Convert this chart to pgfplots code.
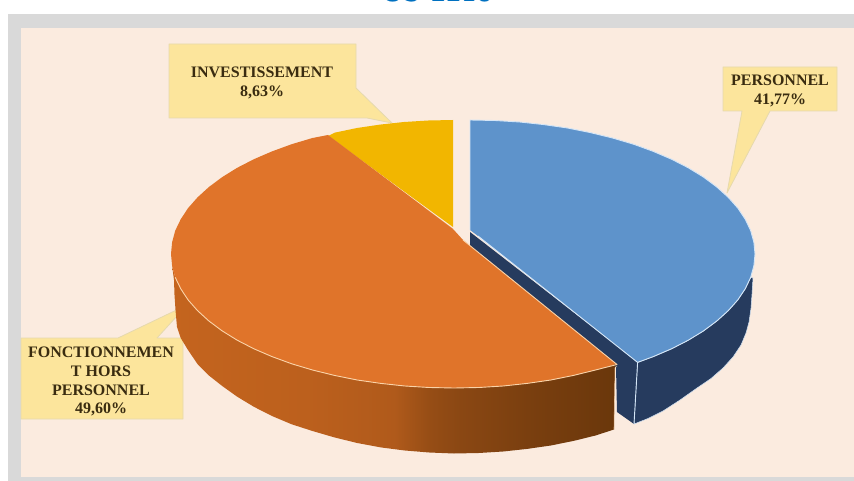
\documentclass[border=0pt]{standalone}
\usepackage{pgfplots}
\pgfplotsset{compat=1.18}
\usepackage{fontspec}
\setmainfont{Liberation Serif}
\definecolor{frame}{HTML}{D9D9D9}
\definecolor{paper}{HTML}{FBEBDF}
\definecolor{callout}{HTML}{FCE59C}
\definecolor{calloutedge}{HTML}{E6D9AE}
\definecolor{blueTop}{HTML}{5E93CB}
\definecolor{blueEdge}{HTML}{D5E6F7}
\definecolor{blueSide}{HTML}{263B5E}
\definecolor{orangeTop}{HTML}{E0742A}
\definecolor{orangeEdge}{HTML}{FAD3A8}
\definecolor{yellowTop}{HTML}{F2B600}
\definecolor{titleBlue}{HTML}{0070C0}
\definecolor{labelInk}{HTML}{3A2C10}
\definecolor{rimA}{HTML}{C4641E}
\definecolor{rimB}{HTML}{BC601D}
\definecolor{rimC}{HTML}{B05A1B}
\definecolor{rimD}{HTML}{964D15}
\definecolor{rimE}{HTML}{8A4713}
\definecolor{rimF}{HTML}{7A3F0F}
\definecolor{rimG}{HTML}{6A370B}
% rim of the orange slice, lit on the left and falling into shade on the right
\pgfdeclarehorizontalshading{orangeRim}{100bp}{
  color(0bp)=(rimA);
  color(25bp)=(rimA);
  color(40bp)=(rimB);
  color(50bp)=(rimC);
  color(54bp)=(rimD);
  color(57.5bp)=(rimE);
  color(65bp)=(rimF);
  color(75bp)=(rimG);
  color(100bp)=(rimG)}
\begin{document}
\begin{tikzpicture}
\begin{axis}[
  scale only axis, width=854pt, height=481pt,
  xmin=0, xmax=854, ymin=0, ymax=481, y dir=reverse,
  axis lines=none, no markers,
  every axis plot/.append style={line join=round},
]
% page ground
\addplot[fill=frame, draw=none] coordinates {(8,14) (854,14) (854,481) (8,481)} --cycle;
\addplot[fill=paper, draw=none] coordinates {(21,28) (854,28) (854,477) (21,477)} --cycle;

% heading, cut by the top of the page
\node[text=titleBlue, font=\bfseries\fontsize{28}{28}\selectfont\sffamily, anchor=base]
  at (axis cs:437,1.5) {US 2218};

% callout boxes with their tails
\addplot[fill=callout, draw=calloutedge, line width=0.8pt] coordinates
  {(169,44) (356,44) (356,88) (392,123) (367,118) (169,118)} --cycle;
\addplot[fill=callout, draw=calloutedge, line width=0.8pt] coordinates
  {(723,67) (837,67) (837,111) (770,111) (727,193) (742,111) (723,111)} --cycle;
\addplot[fill=callout, draw=calloutedge, line width=0.8pt] coordinates
  {(21,338) (118,338) (187,305) (157,338) (183,338) (183,419) (21,419)} --cycle;

% rim of the blue slice
\addplot[fill=blueSide, draw=blueEdge, line width=0.5pt] coordinates
  {(637.6,362.4) (653.3,356.6) (671.5,348.8) (688.3,340.2) (703.5,330.9) (716.8,321)
   (728.3,310.6) (737.9,299.8) (745.3,288.7) (750.7,277.3)
   (753,278) (752,294) (751,308) (749,322) (746,333) (741,345) (733,357) (723,368)
   (711,378.5) (697,388) (680,400) (663,411) (648,418.5) (634,424)} --cycle;
% cut face of the blue slice
\addplot[fill=blueSide, draw=none] coordinates
  {(470,232) (637.6,362) (634,424) (617,412) (616,367) (470,248)} --cycle;
\addplot[draw=blueEdge, line width=0.9pt] coordinates {(637.6,362) (634,424)};

% rim of the orange slice
\addplot[shading=orangeRim, draw=none] coordinates
  {(172.1,265.7) (175.2,277.3) (180.7,288.7) (188,299.8) (197.5,310.6) (208.9,321)
   (222.2,330.9) (237.2,340.2) (253.9,348.8) (272,356.6) (291.7,363.8) (312.5,370)
   (334.4,375.4) (357.2,380) (380.8,383.4) (404.8,386) (429.3,387.5) (454,388)
   (478.7,387.5) (503.2,386) (527.2,383.4) (550.8,380) (573.6,375.4) (595.5,370) (616.3,364)
   (615,367) (614,429.5) (595.5,435.5) (573.6,440.9) (550.8,445.5) (527.2,448.9)
   (503.2,451.5) (478.7,453) (454,453.5) (429.3,452.5) (404.8,450.5) (380.8,447.4)
   (357.2,443) (334.4,437.4) (312.5,431) (291.7,424.3) (272,416) (253.9,406.8) (237.2,396.7)
   (222.2,386) (208.9,375.5) (197.5,364) (188,350) (180.7,338) (177,327) (175.5,310)
   (174.5,295) (174,280)} --cycle;
\addplot[draw=orangeEdge, line width=0.6pt, opacity=0.7] coordinates {(617,366) (615,368) (614,429.5)};

% top faces
\addplot[fill=yellowTop, draw=none] coordinates
  {(453,120) (453,227) (328,136) (335,132.6) (357,128) (380,124.6) (404,122) (428.3,120.5)} --cycle;
\addplot[draw=orangeEdge, line width=0.8pt] coordinates {(328,136) (453,229)};

\addplot[fill=orangeTop, draw=none] coordinates
  {(328,135) (453,229) (463,240) (617,364.5)
   (616.3,364) (595.5,370) (573.6,375.4) (550.8,380) (527.2,383.4) (503.2,386) (478.7,387.5)
   (454,388) (429.3,387.5) (404.8,386) (380.8,383.4) (357.2,380) (334.4,375.4) (312.5,370)
   (291.7,363.8) (272,356.6) (253.9,348.8) (237.2,340.2) (222.2,330.9) (208.9,321)
   (197.5,310.6) (188,299.8) (180.7,288.7) (175.2,277.3) (172.1,265.7) (171,254)
   (172.1,242.3) (175.2,230.7) (180.7,219.3) (188,208.2) (197.5,197.4) (208.9,187)
   (222.2,177.1) (237.2,167.8) (253.9,159.2) (272,151.4) (291.7,144.2) (312.5,138)} --cycle;
\addplot[draw=orangeEdge, line width=0.9pt] coordinates
  {(463,240) (617,364.5) (595.5,370) (573.6,375.4) (550.8,380) (527.2,383.4) (503.2,386)
   (478.7,387.5) (454,388) (429.3,387.5) (404.8,386) (380.8,383.4) (357.2,380) (334.4,375.4)
   (312.5,370) (291.7,363.8) (272,356.6) (253.9,348.8) (237.2,340.2) (222.2,330.9) (208.9,321)
   (197.5,310.6) (188,299.8) (180.7,288.7) (175.2,277.3)};

\addplot[fill=blueTop, draw=none] coordinates
  {(470,120) (494.9,120.5) (519.6,122) (543.8,124.6) (567.5,128) (590.4,132.6) (612.5,138)
   (633.5,144.2) (653.3,151.4) (671.5,159.2) (688.3,167.8) (703.5,177.1) (716.8,187)
   (728.3,197.4) (737.9,208.2) (745.3,219.3) (750.7,230.7) (753.9,242.3) (755,254)
   (753.9,265.7) (750.7,277.3) (745.3,288.7) (737.9,299.8) (728.3,310.6) (716.8,321)
   (703.5,330.9) (688.3,340.2) (671.5,348.8) (653.3,356.6) (637.6,362.4) (478,236) (470,230)} --cycle;
\addplot[draw=blueEdge, line width=0.9pt] coordinates
  {(478,236) (637.6,362.4) (653.3,356.6) (671.5,348.8) (688.3,340.2) (703.5,330.9) (716.8,321)
   (728.3,310.6) (737.9,299.8) (745.3,288.7) (750.7,277.3) (753.9,265.7) (755,254)
   (753.9,242.3) (750.7,230.7) (745.3,219.3) (737.9,208.2) (728.3,197.4) (716.8,187)
   (703.5,177.1) (688.3,167.8) (671.5,159.2) (653.3,151.4) (633.5,144.2) (612.5,138)
   (590.4,132.6) (567.5,128) (543.8,124.6) (519.6,122) (494.9,120.5) (470,120) (470,230)};

% callout texts
\tikzset{lab/.style={text=labelInk, font=\bfseries\fontsize{16}{16}\selectfont, anchor=base, inner sep=0pt}}
\node[lab] at (axis cs:262,78) {INVESTISSEMENT};
\node[lab] at (axis cs:262,97) {8,63\%};
\node[lab] at (axis cs:780,86) {PERSONNEL};
\node[lab] at (axis cs:780,105) {41,77\%};
\node[lab] at (axis cs:101,357) {FONCTIONNEMEN};
\node[lab] at (axis cs:101,376) {T HORS};
\node[lab] at (axis cs:101,395) {PERSONNEL};
\node[lab] at (axis cs:101,413) {49,60\%};
\end{axis}
\pgfresetboundingbox
\useasboundingbox (0,0) rectangle (854pt,481pt);
\end{tikzpicture}
\end{document}
